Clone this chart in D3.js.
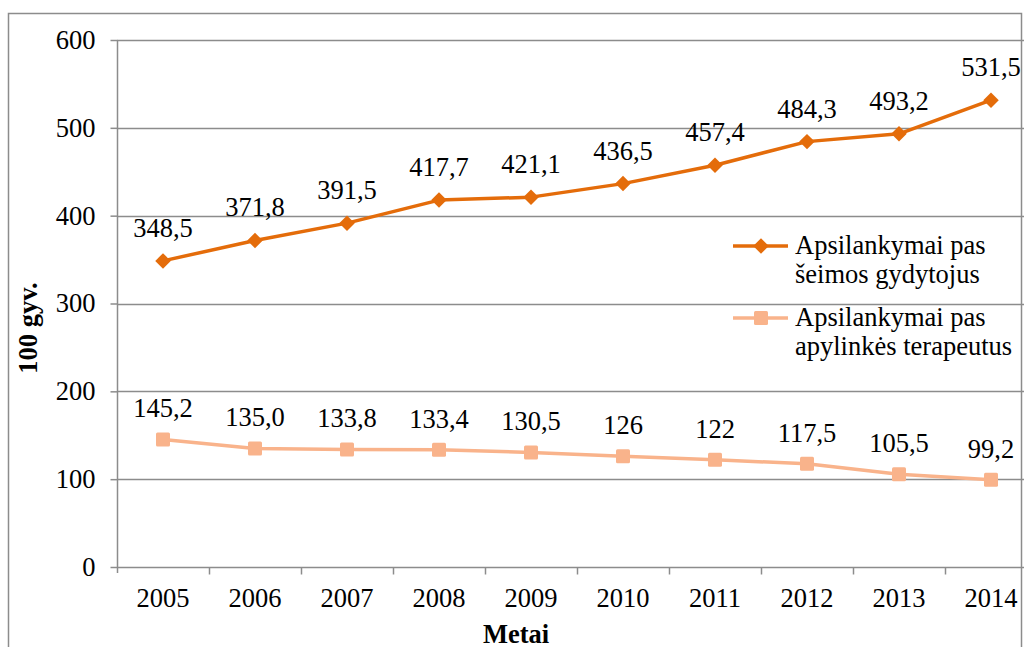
<!DOCTYPE html>
<html>
<head>
<meta charset="utf-8">
<script src="https://cdn.jsdelivr.net/npm/d3@7"></script>
<style>
  html, body { margin: 0; padding: 0; background: #fff; }
  svg { display: block; }
</style>
</head>
<body>
<svg id="chart" width="1024" height="647"></svg>
<script>
// Categories and series
const years = ["2005", "2006", "2007", "2008", "2009", "2010", "2011", "2012", "2013", "2014"];
const familyDoctors = [348.5, 371.8, 391.5, 417.7, 421.1, 436.5, 457.4, 484.3, 493.2, 531.5];
const familyLabels = ["348,5", "371,8", "391,5", "417,7", "421,1", "436,5", "457,4", "484,3", "493,2", "531,5"];
const therapists = [145.2, 135.0, 133.8, 133.4, 130.5, 126, 122, 117.5, 105.5, 99.2];
const therapistLabels = ["145,2", "135,0", "133,8", "133,4", "130,5", "126", "122", "117,5", "105,5", "99,2"];
const yTicks = [0, 100, 200, 300, 400, 500, 600];
const seriesNames = [
  ["Apsilankymai pas", "šeimos gydytojus"],
  ["Apsilankymai pas", "apylinkės terapeutus"]
];

const darkOrange = "#E46C0A";
const lightOrange = "#F9B38B";
const gridColor = "#8c8c8c";
const serif = "'Liberation Serif', 'Times New Roman', serif";

const svg = d3.select("#chart");

// Outer chart frame
svg.append("rect")
  .attr("x", 8.5).attr("y", 13.5)
  .attr("width", 1013).attr("height", 700)
  .attr("fill", "none").attr("stroke", gridColor).attr("stroke-width", 1.5);

const plotLeft = 117, plotRight = 1037, plotTop = 40, plotBottom = 567;

const x = d3.scaleBand().domain(years).range([plotLeft, plotRight]);
const y = d3.scaleLinear().domain([0, 600]).range([plotBottom, plotTop]);

// Horizontal gridlines
svg.append("g")
  .selectAll("line")
  .data(yTicks.filter(d => d > 0))
  .join("line")
  .attr("x1", plotLeft).attr("x2", plotRight)
  .attr("y1", d => Math.round(y(d)) + 0.5).attr("y2", d => Math.round(y(d)) + 0.5)
  .attr("stroke", gridColor).attr("stroke-width", 1.5);

// Y axis
const yAxis = svg.append("g")
  .attr("transform", `translate(${plotLeft + 0.5},0)`)
  .call(d3.axisLeft(y).tickValues(yTicks).tickSize(7).tickPadding(15).tickFormat(d3.format("d")));
yAxis.attr("font-family", null).attr("font-size", null);
yAxis.select(".domain").attr("stroke", gridColor).attr("stroke-width", 1.5)
  .attr("d", `M0,${plotTop}V${plotBottom + 6}`);
yAxis.selectAll(".tick line").attr("stroke", gridColor).attr("stroke-width", 1.5);

// X axis with tick marks between categories
const xAxis = svg.append("g")
  .attr("transform", `translate(0,${Math.round(plotBottom) + 0.5})`);
xAxis.append("line")
  .attr("x1", plotLeft).attr("x2", plotRight)
  .attr("stroke", gridColor).attr("stroke-width", 1.5);
xAxis.selectAll(".sep")
  .data(years.slice(1))
  .join("line")
  .attr("class", "sep")
  .attr("x1", d => Math.round(x(d)) + 0.5).attr("x2", d => Math.round(x(d)) + 0.5)
  .attr("y1", 0).attr("y2", 7)
  .attr("stroke", gridColor).attr("stroke-width", 1.5);
xAxis.selectAll(".lbl")
  .data(years)
  .join("text")
  .attr("class", "lbl")
  .attr("x", d => x(d) + x.bandwidth() / 2)
  .attr("y", 39)
  .attr("text-anchor", "middle")
  .text(d => d);

// Axis titles
svg.append("text")
  .attr("x", 516).attr("y", 643)
  .attr("text-anchor", "middle")
  .attr("font-weight", "bold")
  .text("Metai");

svg.append("text")
  .attr("transform", "translate(37,328) rotate(-90)")
  .attr("text-anchor", "middle")
  .attr("font-weight", "bold")
  .text("100 gyv.");

const cx = (d, i) => x(years[i]) + x.bandwidth() / 2;
const line = d3.line().x(cx).y(d => y(d));

const diamond = d3.symbol().type(d3.symbolSquare).size(120);

// Series: family doctor visits
svg.append("path")
  .datum(familyDoctors)
  .attr("d", line)
  .attr("fill", "none").attr("stroke", darkOrange).attr("stroke-width", 3.5)
  .attr("stroke-linejoin", "round");
svg.append("g").selectAll("path")
  .data(familyDoctors)
  .join("path")
  .attr("d", diamond)
  .attr("transform", (d, i) => `translate(${cx(d, i)},${y(d)}) rotate(45)`)
  .attr("fill", darkOrange);

// Series: district therapist visits
svg.append("path")
  .datum(therapists)
  .attr("d", line)
  .attr("fill", "none").attr("stroke", lightOrange).attr("stroke-width", 3.5)
  .attr("stroke-linejoin", "round");
svg.append("g").selectAll("rect")
  .data(therapists)
  .join("rect")
  .attr("x", (d, i) => cx(d, i) - 7).attr("y", d => y(d) - 7)
  .attr("width", 14).attr("height", 14).attr("rx", 1.5)
  .attr("fill", lightOrange);

// Data labels
svg.append("g").selectAll("text")
  .data(familyDoctors)
  .join("text")
  .attr("x", cx).attr("y", d => y(d) - 24)
  .attr("text-anchor", "middle")
  .text((d, i) => familyLabels[i]);
svg.append("g").selectAll("text")
  .data(therapists)
  .join("text")
  .attr("x", cx).attr("y", d => y(d) - 22)
  .attr("text-anchor", "middle")
  .text((d, i) => therapistLabels[i]);

// Legend
const legend = svg.append("g");
const legendRows = [
  { color: darkOrange, shape: "diamond", y: 246 },
  { color: lightOrange, shape: "square", y: 318 }
];
legendRows.forEach((r, k) => {
  legend.append("line")
    .attr("x1", 733).attr("x2", 788).attr("y1", r.y).attr("y2", r.y)
    .attr("stroke", r.color).attr("stroke-width", 3.5);
  if (r.shape === "diamond") {
    legend.append("path")
      .attr("d", diamond)
      .attr("transform", `translate(761,${r.y}) rotate(45)`)
      .attr("fill", r.color);
  } else {
    legend.append("rect")
      .attr("x", 754).attr("y", r.y - 7).attr("width", 14).attr("height", 14).attr("rx", 1.5)
      .attr("fill", r.color);
  }
  seriesNames[k].forEach((t, j) => {
    legend.append("text")
      .attr("x", 795).attr("y", r.y + 8 + j * 29)
      .text(t);
  });
});

// Common text styling: serif face, black
svg.selectAll("text")
  .style("font-family", serif)
  .style("font-size", "26.5px")
  .style("fill", "#000");
</script>
</body>
</html>
